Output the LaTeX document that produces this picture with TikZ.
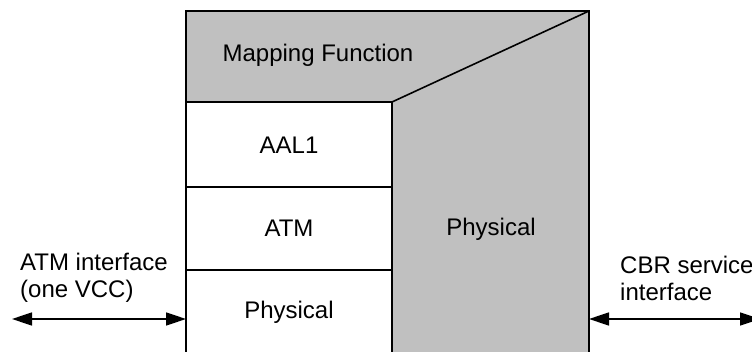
\documentclass[tikz,border=0pt]{standalone}
\usepackage{fontspec}
\setmainfont{Liberation Sans}
\usetikzlibrary{arrows.meta}
\definecolor{layergray}{HTML}{C0C0C0}
\begin{document}
\begin{tikzpicture}[x=1pt,y=1pt,
  outline/.style={line width=1.6pt},
  sep/.style={line width=1.2pt},
  lbl/.style={font=\fontsize{24}{27}\selectfont, inner sep=0pt},
  iface/.style={line width=1.6pt, {Triangle[length=20pt,width=13pt]}-{Triangle[length=20pt,width=13pt]}}]
\useasboundingbox (0,0) rectangle (752,352);
\clip (0,0) rectangle (752,352);
% box outline corners
\coordinate (tl) at (186,341);
\coordinate (tr) at (589,341);
\coordinate (br) at (589,-10);
\coordinate (bl) at (186,-10);
\coordinate (inner) at (392,250);
\coordinate (innerb) at (392,-10);
% gray body, white protocol column
\fill[layergray] (tl) rectangle (br);
\fill[white] (186,250) rectangle (innerb);
% row separators in the left column
\draw[sep] (186,165) -- (392,165);
\draw[sep] (186,82) -- (392,82);
% outlines
\draw[outline] (bl) -- (tl) -- (tr) -- (br);
\draw[outline] (186,250) -- (inner) -- (innerb);
\draw[outline] (inner) -- (tr);
% labels
\node[lbl] (map) at (318,297) {Mapping Function};
\node[lbl] (aal) at (289,207) {AAL1};
\node[lbl] (atm) at (289,124) {ATM};
\node[lbl] (phyl) at (289,40) {Physical};
\node[lbl] (phyr) at (491,123) {Physical};
\node[lbl, anchor=west, align=left] (atmif) at (20,74) {ATM interface\\(one VCC)};
\node[lbl, anchor=west, align=left] (cbrif) at (620,74) {CBR service\\interface};
% interface arrows
\coordinate (lend) at (12,33);
\coordinate (lbox) at (186,33);
\coordinate (rbox) at (589,33);
\coordinate (rend) at (760,33);
\draw[iface] (lend) -- (lbox);
\draw[iface] (rbox) -- (rend);
\end{tikzpicture}
\end{document}
